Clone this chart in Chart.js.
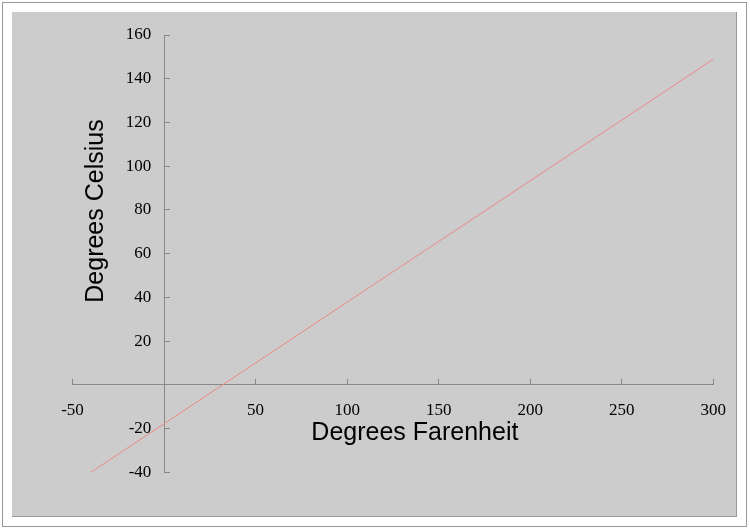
<!DOCTYPE html>
<html>
<head>
<meta charset="utf-8">
<script src="https://cdn.jsdelivr.net/npm/chart.js@4"></script>
<style>
  html, body { margin: 0; padding: 0; background: #fff; }
  #frame { position: absolute; left: 2px; top: 2px; width: 743px; height: 523px; border: 1px solid #999; }
  #panel { position: absolute; left: 12px; top: 12px; width: 724px; height: 504px; background: #cccccc;
           border-right: 1px solid #999; border-bottom: 1px solid #999; }
  #wrap { position: absolute; left: 0; top: 0; width: 750px; height: 530px; }
</style>
</head>
<body>
<div id="frame"></div>
<div id="panel"></div>
<div id="wrap"><canvas id="chart"></canvas></div>
<script>
// Fahrenheit -> Celsius points
const fahrenheit = [-40, 0, 32, 100, 212, 300];
const celsius = [-40, -17.8, 0, 37.8, 100, 148.9];

const xTicks = [-50, 50, 100, 150, 200, 250, 300];
const yTicks = [-40, -20, 20, 40, 60, 80, 100, 120, 140, 160];

const xTitle = 'Degrees Farenheit';
const yTitle = 'Degrees Celsius';

const tickFont = { family: '"Liberation Serif", "Times New Roman", serif', size: 17 };
const titleFont = '25px "Liberation Sans", Arial, sans-serif';

// axis titles drawn by hand so the y title reads bottom-to-top
const axisTitles = {
    id: 'axisTitles',
    afterDraw(chart) {
        const ctx = chart.ctx;
        const xs = chart.scales.x, ys = chart.scales.y;
        ctx.save();
        ctx.fillStyle = '#000';
        ctx.font = titleFont;
        ctx.textAlign = 'center';
        ctx.textBaseline = 'middle';
        ctx.fillText(xTitle, xs.getPixelForValue(137), ys.getPixelForValue(-22.3));
        ctx.translate(xs.getPixelForValue(-37.2), ys.getPixelForValue(79.5));
        ctx.rotate(-Math.PI / 2);
        ctx.fillText(yTitle, 0, 0);
        ctx.restore();
    }
};

document.addEventListener('DOMContentLoaded', function() {
    const ctx = document.getElementById('chart').getContext('2d');
    new Chart(ctx, {
        type: 'scatter',
        data: {
            datasets: [{
                data: fahrenheit.map((f, i) => ({ x: f, y: celsius[i] })),
                showLine: true,
                borderColor: '#ec8888',
                borderWidth: 1,
                pointRadius: 0,
                tension: 0
            }]
        },
        options: {
            responsive: true,
            maintainAspectRatio: false,
            animation: false,
            layout: { padding: { left: 72.5, right: 36.7, top: 35, bottom: 57.7 } },
            plugins: {
                legend: { display: false },
                tooltip: { enabled: false }
            },
            scales: {
                x: {
                    type: 'linear',
                    position: { y: 0 },
                    min: -50,
                    max: 300,
                    afterBuildTicks: s => { s.ticks = xTicks.map(v => ({ value: v })); },
                    grid: { drawOnChartArea: false, tickLength: -6, color: '#888' },
                    border: { color: '#888', width: 1 },
                    ticks: { color: '#000', font: tickFont, padding: 21, maxRotation: 0, autoSkip: false }
                },
                y: {
                    type: 'linear',
                    position: { x: 0 },
                    min: -40,
                    max: 160,
                    afterBuildTicks: s => { s.ticks = yTicks.map(v => ({ value: v })); },
                    grid: { drawOnChartArea: false, tickLength: -6, color: '#888' },
                    border: { color: '#888', width: 1 },
                    // labels sit right against the axis line here, so pad them with spaces
                    ticks: { color: '#000', font: tickFont, autoSkip: false, callback: v => v + '   ' }
                }
            }
        },
        plugins: [axisTitles]
    });
});
</script>
</body>
</html>
